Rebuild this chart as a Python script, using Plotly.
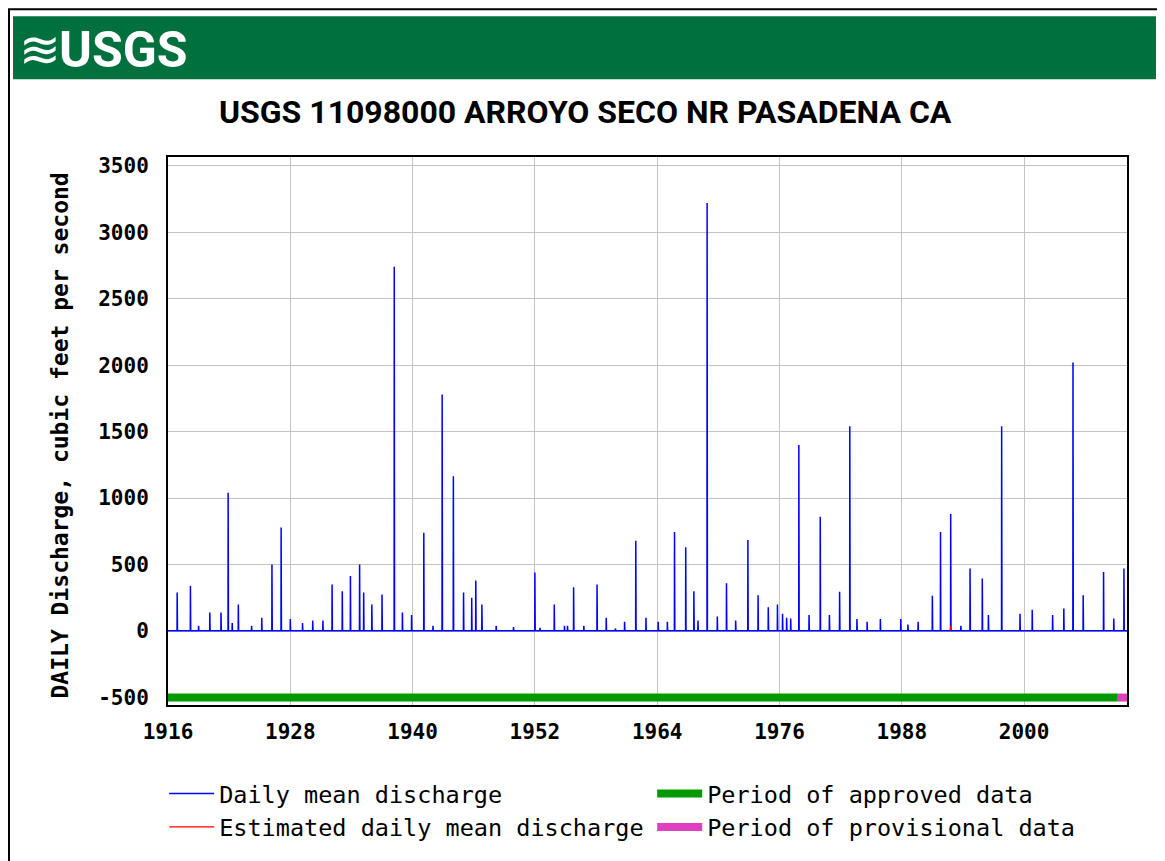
import plotly.graph_objects as go

# ---------------- data ----------------
# storm events: decimal year, peak daily mean discharge (cfs), next-day value
event_years = [1916.9, 1918.2, 1919.0, 1920.1, 1921.2, 1921.9, 1922.3, 1922.9, 1924.2, 1925.2,
               1926.2, 1927.1, 1928.0, 1929.2, 1930.2, 1931.2, 1932.1, 1933.1, 1933.9, 1934.8,
               1935.2, 1936.0, 1937.0, 1938.2, 1939.0, 1939.9, 1941.1, 1942.0, 1942.9, 1944.0,
               1945.0, 1945.8, 1946.2, 1946.8, 1948.2, 1949.9, 1952.0, 1952.5, 1953.9, 1954.9,
               1955.2, 1955.8, 1956.8, 1958.1, 1959.0, 1959.9, 1960.8, 1961.9, 1962.9, 1964.1,
               1965.0, 1965.7, 1966.8, 1967.6, 1968.0, 1968.9, 1969.9, 1970.8, 1971.7, 1972.9,
               1973.9, 1974.9, 1975.8, 1976.3, 1976.7, 1977.1, 1977.9, 1978.9, 1980.0, 1980.9,
               1981.9, 1982.9, 1983.6, 1984.6, 1985.9, 1987.9, 1988.6, 1989.6, 1991.0, 1991.8,
               1992.8, 1993.8, 1994.7, 1995.9, 1996.5, 1997.8, 1999.6, 2000.8, 2002.8, 2003.9,
               2004.8, 2005.8, 2007.8, 2008.8, 2009.8]
peak_cfs = [290, 340, 40, 140, 140, 1040, 60, 200, 40, 100,
            500, 780, 90, 60, 80, 80, 350, 300, 415, 500,
            290, 200, 275, 2740, 140, 120, 740, 40, 1780, 1165,
            290, 250, 380, 200, 40, 30, 440, 25, 200, 40,
            40, 330, 40, 350, 100, 20, 70, 680, 100, 70,
            70, 745, 630, 300, 80, 3220, 110, 360, 80, 685,
            270, 180, 200, 130, 100, 95, 1400, 120, 860, 120,
            295, 1540, 90, 70, 90, 90, 50, 70, 265, 745,
            880, 40, 470, 395, 120, 1540, 130, 160, 120, 170,
            2020, 270, 445, 95, 470]
next_day_cfs = [120, 60, 10, 60, 100, 460, 20, 60, 10, 30,
                150, 560, 30, 20, 30, 30, 130, 100, 150, 200,
                120, 60, 120, 250, 60, 80, 200, 10, 470, 120,
                260, 90, 130, 60, 10, 20, 170, 10, 60, 10,
                10, 100, 10, 300, 30, 10, 20, 200, 30, 20,
                20, 690, 290, 100, 30, 1810, 40, 120, 30, 200,
                100, 60, 60, 50, 40, 40, 760, 40, 380, 40,
                100, 220, 30, 20, 30, 30, 20, 20, 100, 350,
                300, 10, 300, 130, 40, 230, 40, 50, 40, 60,
                1050, 100, 150, 30, 200]
base_flow_cfs = 3

# estimated-record fragments (red); None separates fragments
est_years = [1992.75, 1992.8, 1992.85, None, 2001.5, 2001.6]
est_cfs = [5, 40, 5, None, 4, 6]

# periods of record status
approved_years = [1916.0, 2009.2]
provisional_years = [2009.2, 2010.1]
status_level = -500

x_ticks = [1916, 1928, 1940, 1952, 1964, 1976, 1988, 2000]
y_ticks = [-500, 0, 500, 1000, 1500, 2000, 2500, 3000, 3500]

title_text = "USGS 11098000 ARROYO SECO NR PASADENA CA"
y_title = "DAILY Discharge, cubic feet per second"

# ---------------- build daily hydrograph from events ----------------
hx, hy = [approved_years[0]], [base_flow_cfs]
for t, p, n in zip(event_years, peak_cfs, next_day_cfs):
    hx += [t - 0.012, t, t + 0.003, t + 0.03]
    hy += [base_flow_cfs, p, n, base_flow_cfs]
hx.append(provisional_years[1])
hy.append(base_flow_cfs)

MONO = "DejaVu Sans Mono, monospace"
SANS = "Roboto, Liberation Sans, Arial"

fig = go.Figure()
fig.add_trace(go.Scatter(x=hx, y=hy, mode="lines", name="Daily mean discharge",
                         line=dict(color="#0000FF", width=1.5)))
fig.add_trace(go.Scatter(x=approved_years, y=[status_level] * 2, mode="lines",
                         name="Period of approved data",
                         line=dict(color="#009A00", width=8)))
fig.add_trace(go.Scatter(x=est_years, y=est_cfs, mode="lines",
                         name="Estimated daily mean discharge", connectgaps=False,
                         line=dict(color="#FF0000", width=1.2)))
fig.add_trace(go.Scatter(x=provisional_years, y=[status_level] * 2, mode="lines",
                         name="Period of provisional data",
                         line=dict(color="#E040C0", width=8)))

# page has an 8px body margin: figure is shifted 8px; offsets below are in page pixels
fig.update_layout(
    width=1157, height=853,
    margin=dict(l=160, r=38, t=149, b=155),
    paper_bgcolor="white", plot_bgcolor="white",
    showlegend=True,
    legend=dict(orientation="h", x=-0.004, xanchor="left", y=-0.1195, yanchor="top",
                itemwidth=45, entrywidth=428, entrywidthmode="pixels",
                font=dict(family=MONO, size=23.5, color="black"),
                bgcolor="rgba(0,0,0,0)", traceorder="normal", tracegroupgap=0),
    xaxis=dict(range=[1916.0, 2010.1], tickvals=x_ticks, ticktext=[str(v) for v in x_ticks],
               showgrid=True, gridcolor="#C4C4C4", gridwidth=1, zeroline=False,
               showline=True, linecolor="black", linewidth=2, mirror=True,
               ticks="", ticklabelstandoff=7,
               tickfont=dict(family=MONO, size=21, color="black", weight="bold")),
    yaxis=dict(range=[-556, 3566], tickvals=y_ticks, ticktext=[str(v) for v in y_ticks],
               showgrid=True, gridcolor="#C4C4C4", gridwidth=1, zeroline=False,
               showline=True, linecolor="black", linewidth=2, mirror=True,
               ticks="", ticklabelstandoff=13,
               tickfont=dict(family=MONO, size=21, color="black", weight="bold")),
)

W, H = 959.0, 549.0
def px(x):
    return (x - 168) / W
def py(y):
    return (706 - y) / H

# outer frame and USGS banner
fig.add_shape(type="rect", xref="paper", yref="paper", x0=px(9), x1=px(1159), y0=py(880), y1=py(9),
              line=dict(color="black", width=2), fillcolor="rgba(0,0,0,0)", layer="above")
fig.add_shape(type="rect", xref="paper", yref="paper", x0=px(13), x1=px(1156), y0=py(79), y1=py(16),
              line=dict(width=0), fillcolor="#00703F", layer="below")

fig.add_annotation(text="≋", xref="paper", yref="paper", x=px(40), y=py(50), showarrow=False,
                   xanchor="center", yanchor="middle",
                   font=dict(family="DejaVu Sans", size=50, color="white"))
fig.add_annotation(text="<b>USGS</b>", xref="paper", yref="paper", x=px(57), y=py(50), showarrow=False,
                   xanchor="left", yanchor="middle",
                   font=dict(family=SANS, size=50, color="white"))
fig.add_annotation(text="<b>" + title_text + "</b>", xref="paper", yref="paper", x=px(585), y=py(112),
                   showarrow=False, xanchor="center", yanchor="middle",
                   font=dict(family=SANS, size=32, color="black"))
fig.add_annotation(text="<b>" + y_title + "</b>", xref="paper", yref="paper", x=px(60), y=py(436),
                   showarrow=False, textangle=-90, xanchor="center", yanchor="middle",
                   font=dict(family=MONO, size=23, color="black"))

fig.write_html("out.html")
